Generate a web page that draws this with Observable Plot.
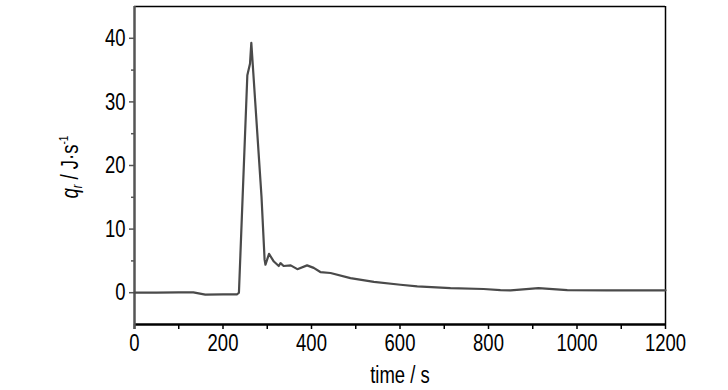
<!DOCTYPE html>
<html>
<head>
<meta charset="utf-8">
<script src="https://cdn.jsdelivr.net/npm/d3@7"></script>
<script src="https://cdn.jsdelivr.net/npm/@observablehq/plot@0.6"></script>
<style>
  html, body { margin: 0; padding: 0; background: #fff; }
</style>
</head>
<body>
<div id="chart"></div>
<script>
// time (s)
const time = [0, 50, 100, 133, 160, 200, 232, 236, 255, 261, 264, 273, 287, 294, 296, 304, 315, 326, 330, 337, 353, 368, 390, 405, 420, 443, 488, 541, 601, 639, 714, 789, 827, 850, 913, 978, 1068, 1200];
// q_r (J/s)
const qr = [0, 0, 0.05, 0.05, -0.3, -0.25, -0.25, 0, 34.2, 36, 39.3, 29.8, 15.1, 5.2, 4.4, 6.1, 4.9, 4.2, 4.65, 4.2, 4.3, 3.7, 4.3, 3.9, 3.25, 3.1, 2.3, 1.7, 1.25, 1.0, 0.72, 0.58, 0.4, 0.37, 0.73, 0.42, 0.37, 0.37];

const xMajor = [0, 200, 400, 600, 800, 1000, 1200];
const xMinor = [100, 300, 500, 700, 900, 1100];
const yMajor = [0, 10, 20, 30, 40];
const yMinor = [5, 15, 25, 35];
const xDomain = [0, 1200];
const yDomain = [-5, 45];
const xTitle = "time / s";

const data = time.map((t, i) => ({t, q: qr[i]}));

const chart = Plot.plot({
  width: 728,
  height: 390,
  marginLeft: 134,
  marginRight: 63,
  marginTop: 6,
  marginBottom: 66,
  style: {fontFamily: "'Liberation Sans', Arial, sans-serif", fontSize: "24px", color: "#000", background: "#fff"},
  x: {domain: xDomain, label: null},
  y: {domain: yDomain, label: null},
  marks: [
    Plot.axisY({ticks: yMajor, tickSize: 5, tickPadding: 4, stroke: "#555", strokeWidth: 1.5, fill: "#000", fontSize: 24, label: null}),
    Plot.axisY({ticks: yMinor, tickSize: 3, tickFormat: () => "", stroke: "#555", strokeWidth: 1.5, label: null}),
    Plot.axisX({ticks: xMajor, tickSize: 5, tickPadding: 4, tickFormat: d => String(d), stroke: "#000", strokeWidth: 1.5, fill: "#000", fontSize: 24, label: null}),
    Plot.axisX({ticks: xMinor, tickSize: 5, tickFormat: () => "", stroke: "#000", strokeWidth: 1.5, label: null}),
    Plot.ruleY([yDomain[1]], {stroke: "#000", strokeWidth: 1.5}),
    Plot.ruleX([xDomain[1]], {stroke: "#000", strokeWidth: 1.5}),
    Plot.ruleY([yDomain[0]], {stroke: "#000", strokeWidth: 2.5}),
    Plot.ruleX([xDomain[0]], {stroke: "#555", strokeWidth: 2.5, insetBottom: -5}),
    Plot.line(data, {x: "t", y: "q", stroke: "#4a4a4a", strokeWidth: 2.2, strokeLinejoin: "round"}),
    Plot.text([xTitle], {frameAnchor: "bottom", dy: 51, lineAnchor: "middle", fontSize: 24, fill: "#000"})
  ]
});

document.getElementById("chart").appendChild(chart);

// condense all text horizontally (narrow sans look)
const K = 0.77;
chart.querySelectorAll("text").forEach(el => {
  const x = +el.getAttribute("x") || 0;
  const y = +el.getAttribute("y") || 0;
  const T = el.getAttribute("transform") || "";
  el.setAttribute("transform", `${T} translate(${x},${y}) scale(${K},1) translate(${-x},${-y})`);
});

// y-axis title with italic q, subscript r and superscript -1
const svg = d3.select(chart);
const yt = svg.append("text")
  .attr("transform", `translate(78,167) rotate(-90) scale(${K},1)`)
  .attr("text-anchor", "middle")
  .attr("fill", "#000")
  .style("font-family", "'Liberation Sans', Arial, sans-serif")
  .style("font-size", "24px");
yt.append("tspan").attr("font-style", "italic").text("q");
yt.append("tspan").attr("font-style", "italic").attr("font-size", "14px").attr("dy", "4").text("r");
yt.append("tspan").attr("dy", "-4").text(" / J·s");
yt.append("tspan").attr("font-size", "13px").attr("dy", "-10").text("-1");
</script>
</body>
</html>
